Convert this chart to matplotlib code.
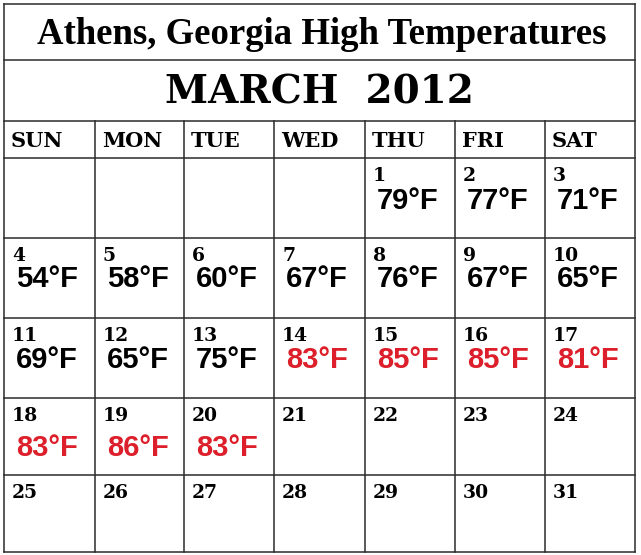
import matplotlib.pyplot as plt

# calendar data: March 2012, daily highs (F) for Athens, GA
title = "Athens, Georgia High Temperatures"
month_label = "MARCH  2012"
weekdays = ["SUN", "MON", "TUE", "WED", "THU", "FRI", "SAT"]
first_weekday = 4  # March 1 2012 was a Thursday
n_days = 31
highs = [79, 77, 71, 54, 58, 60, 67, 76, 67, 65,
         69, 65, 75, 83, 85, 85, 81, 83, 86, 83]
record_level = 80  # highs above this are shown in red

W, H = 641, 555
fig = plt.figure(figsize=(W / 100, H / 100), dpi=100)
ax = fig.add_axes([0, 0, 1, 1])
ax.set_xlim(0, W)
ax.set_ylim(H, 0)
ax.axis('off')

# table geometry in pixels
left, right = 4, 635
col_x = [4, 95, 184, 274, 365, 455, 545, 635]
row_y = [4, 60, 121, 158, 238, 318, 398, 475, 552]
temp_dy = [43, 41, 42, 50, 43]  # temp text offset per week row
line_col = '#2b2b2b'

# horizontal lines
for y in row_y:
    ax.plot([left, right], [y, y], color=line_col, lw=1.1)
# outer verticals
ax.plot([left, left], [row_y[0], row_y[-1]], color=line_col, lw=1.1)
ax.plot([right, right], [row_y[0], row_y[-1]], color=line_col, lw=1.1)
# inner verticals (weekday header + day cells)
for x in col_x[1:-1]:
    ax.plot([x, x], [row_y[2], row_y[-1]], color=line_col, lw=1.1)

ax.text((left + right) / 2 + 2, 34, title, ha='center', va='center',
        fontsize=26.5, fontweight='bold', family='Liberation Serif', color='black')
ax.text((left + right) / 2, 93, month_label, ha='center', va='center',
        fontsize=28, fontweight='heavy', family='DejaVu Serif', color='black')

for i, d in enumerate(weekdays):
    ax.text(col_x[i] + 7, 141, d, ha='left', va='center',
            fontsize=15, fontweight='bold', family='DejaVu Serif')

for day in range(1, n_days + 1):
    pos = first_weekday + day - 1
    r, c = divmod(pos, 7)
    x0 = col_x[c]
    y0 = row_y[3 + r]
    ax.text(x0 + 8, y0 + 18, str(day), ha='left', va='center',
            fontsize=13.5, fontweight='bold', family='DejaVu Serif')
    if day <= len(highs):
        t = highs[day - 1]
        col = '#dc1f2a' if t > record_level else 'black'
        ax.text(x0 + 12, y0 + temp_dy[r], f"{t}°F", ha='left', va='center',
                fontsize=21, fontweight='bold', family='Liberation Sans', color=col)

fig.savefig('out.png', dpi=100, facecolor='white')
